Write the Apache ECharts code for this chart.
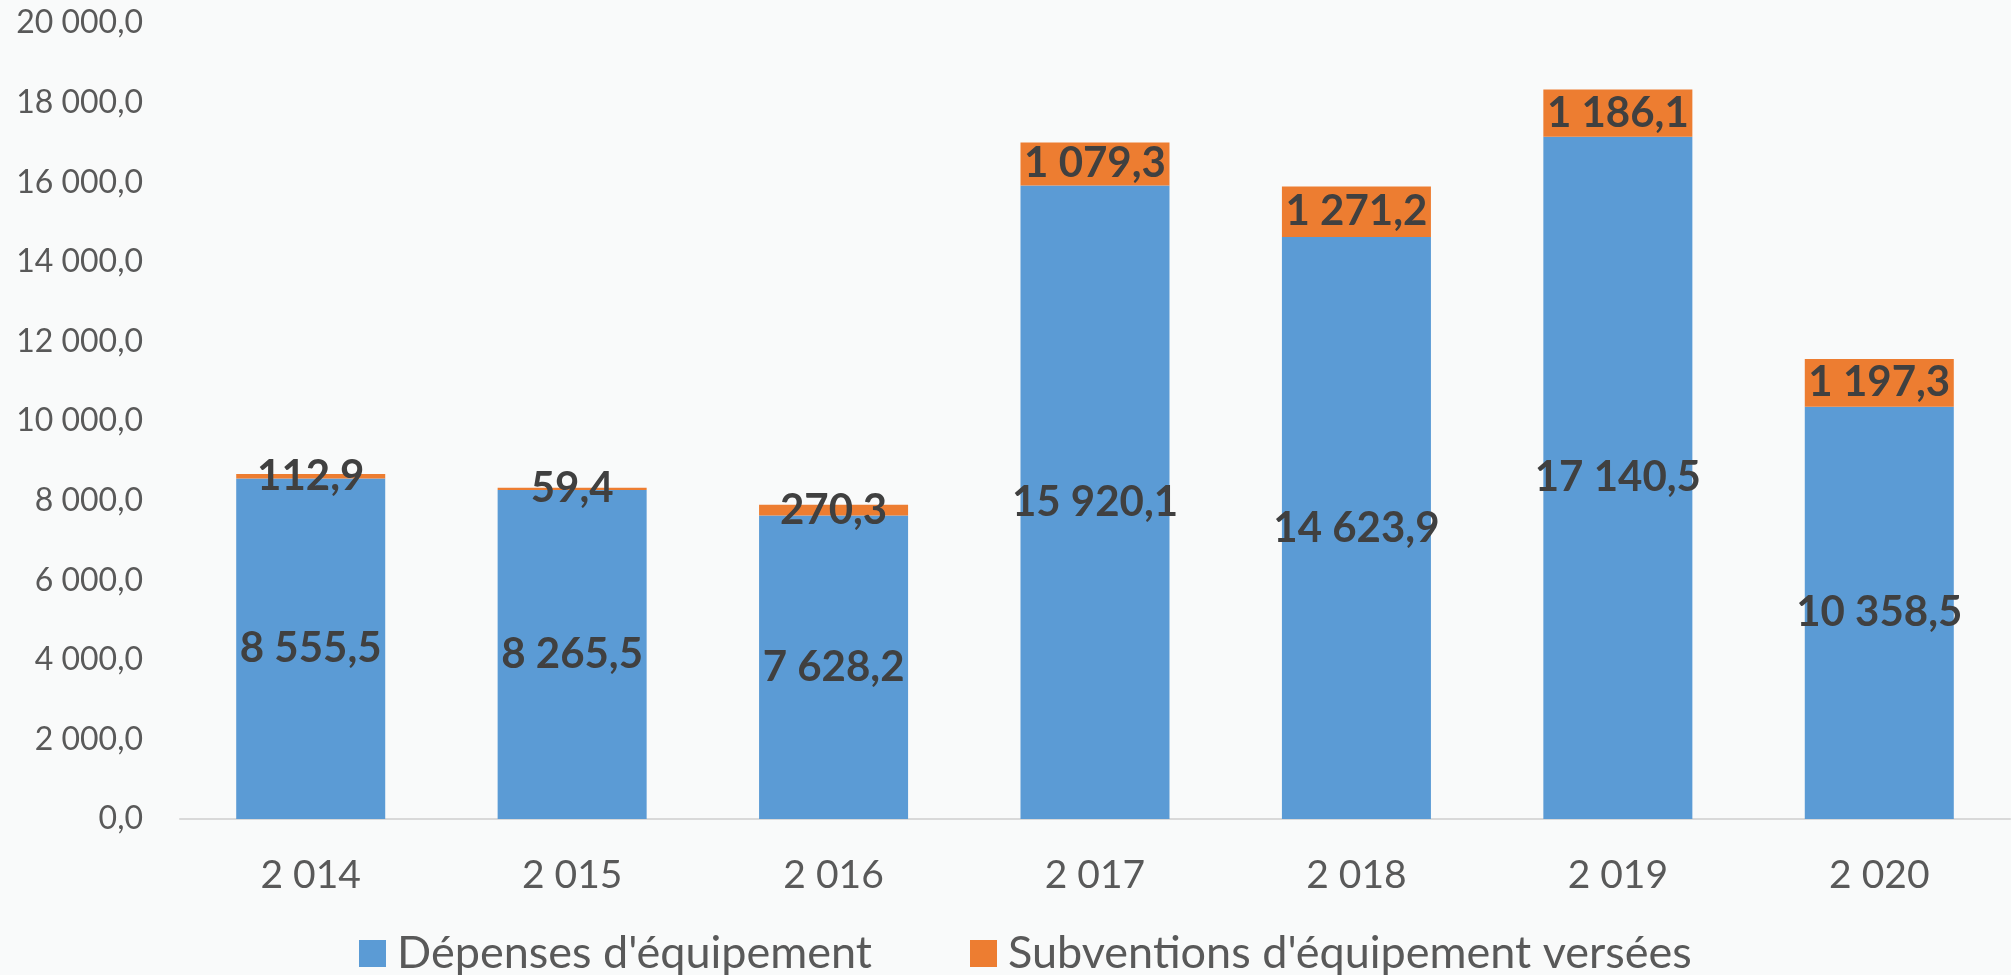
<!DOCTYPE html>
<html>
<head>
<meta charset="utf-8">
<script src="https://cdn.jsdelivr.net/npm/echarts@6/dist/echarts.min.js"></script>
<style>
html,body{margin:0;padding:0;background:#f9fafa;}
#c{width:2011px;height:975px;}
</style>
</head>
<body>
<div id="c"></div>
<script>
const categories = ['2 014', '2 015', '2 016', '2 017', '2 018', '2 019', '2 020'];
const depenses = [8555.5, 8265.5, 7628.2, 15920.1, 14623.9, 17140.5, 10358.5];
const subventions = [112.9, 59.4, 270.3, 1079.3, 1271.2, 1186.1, 1197.3];
const seriesNames = ["Dépenses d'équipement", "Subventions d'équipement versées"];

function fmt(v) {
  const s = Number(v).toFixed(1);
  const parts = s.split('.');
  const intPart = parts[0].replace(/\B(?=(\d{3})+(?!\d))/g, ' ');
  return intPart + ',' + parts[1];
}

const FONT = 'Lato, "Open Sans", sans-serif';
const chart = echarts.init(document.getElementById('c'), null, {renderer: 'canvas'});
const labelStyle = {
  show: true,
  position: 'inside',
  fontFamily: FONT,
  fontWeight: 'bold',
  fontSize: 42,
  color: '#404040',
  formatter: p => fmt(p.value)
};
chart.setOption({
  backgroundColor: '#f9fafa',
  animation: false,
  grid: {left: 180, right: 1, top: 23, bottom: 156, containLabel: false},
  legend: {
    left: 354,
    top: 926,
    itemWidth: 27,
    itemHeight: 27,
    itemGap: 98,
    icon: 'rect',
    textStyle: {fontFamily: FONT, fontSize: 45, color: '#595959', padding: [0, 0, 0, 6]},
    data: seriesNames
  },
  xAxis: {
    type: 'category',
    data: categories,
    axisLine: {lineStyle: {color: '#d9d9d9', width: 2}},
    axisTick: {show: false},
    axisLabel: {fontFamily: FONT, fontSize: 39, color: '#595959', margin: 37}
  },
  yAxis: {
    type: 'value',
    min: 0,
    max: 20000,
    interval: 2000,
    splitLine: {show: false},
    axisLine: {show: false},
    axisTick: {show: false},
    axisLabel: {fontFamily: FONT, fontSize: 32, color: '#595959', margin: 37, formatter: v => fmt(v)}
  },
  series: [
    {
      name: seriesNames[0],
      type: 'bar',
      stack: 'total',
      barWidth: '57%',
      data: depenses,
      itemStyle: {color: '#5b9bd5'},
      label: labelStyle
    },
    {
      name: seriesNames[1],
      type: 'bar',
      stack: 'total',
      barWidth: '57%',
      data: subventions,
      itemStyle: {color: '#ed7d31'},
      label: labelStyle
    }
  ]
});
</script>
</body>
</html>
